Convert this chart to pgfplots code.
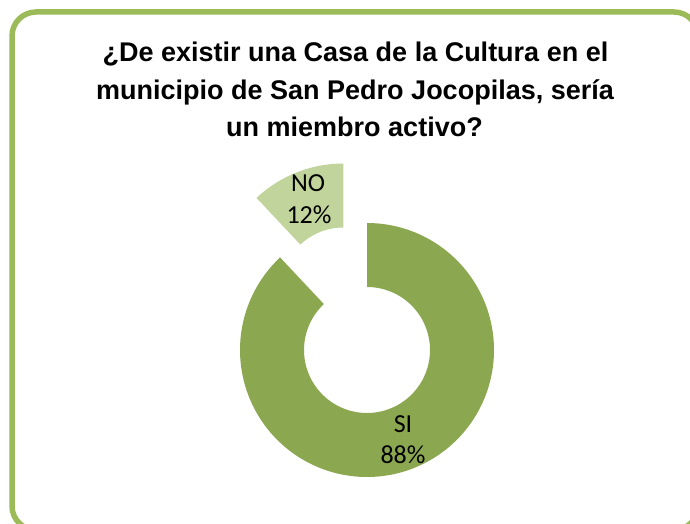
\documentclass[border=0pt]{standalone}
\usepackage{pgfplots}
\usepackage{pgfplotstable}
\pgfplotsset{compat=1.18}
\usepackage{fontspec}
\setmainfont{Liberation Sans}
\newfontfamily\labelfont{Carlito}
\definecolor{sicol}{HTML}{8BA750}
\definecolor{nocol}{HTML}{C0D49B}
\definecolor{framecol}{HTML}{9BBB59}

\pgfplotstableread{
label value
SI 88
NO 12
}\datatable

\begin{document}
\begin{tikzpicture}
\pgfplotstablegetelem{0}{value}\of\datatable \let\vSI\pgfplotsretval
\pgfplotstablegetelem{1}{value}\of\datatable \let\vNO\pgfplotsretval
% geometry (pixel units)
\pgfmathsetmacro{\cx}{367}
\pgfmathsetmacro{\cy}{173}
\pgfmathsetmacro{\Ro}{127}
\pgfmathsetmacro{\Ri}{63}
% SI slice: clockwise from 12 o'clock
\pgfmathsetmacro{\siA}{90-3.6*\vSI}
\pgfmathsetmacro{\siB}{90}
% NO slice
\pgfmathsetmacro{\noA}{90}
\pgfmathsetmacro{\noB}{90+3.6*\vNO}
\pgfmathsetmacro{\noMid}{90+1.8*\vNO}
\pgfmathsetmacro{\noX}{\cx+64*cos(\noMid)}
\pgfmathsetmacro{\noY}{\cy+64*sin(\noMid)}
\path[use as bounding box] (0,0) rectangle (690pt,523pt);
\clip (0,0) rectangle (690pt,523pt);
\begin{axis}[at={(0,0)}, anchor=south west, width=690pt, height=523pt,
  scale only axis, xmin=0, xmax=690, ymin=0, ymax=523, hide axis, clip=false]
% frame
\draw[framecol, line width=5.5pt, rounded corners=24pt]
  (axis cs:12,511) rectangle (axis cs:698,-7);
% SI slice: t in [0,1] outer arc, [1,1.1] radial edge, [1.1,2] inner arc back
\addplot[fill=sicol, draw=none, no markers, domain=0:2, samples=401, variable=\t]
  ({\cx + ((\t<1.05) ? \Ro : \Ri)*cos(((\t<=1) ? (\siA+(\siB-(\siA))*\t) : ((\t<=1.1) ? \siB : (\siB-(\siB-(\siA))*(\t-1.1)/0.9))))},
   {\cy + ((\t<1.05) ? \Ro : \Ri)*sin(((\t<=1) ? (\siA+(\siB-(\siA))*\t) : ((\t<=1.1) ? \siB : (\siB-(\siB-(\siA))*(\t-1.1)/0.9))))});
% NO slice (exploded)
\addplot[fill=nocol, draw=none, no markers, domain=0:2, samples=201, variable=\t]
  ({\noX + ((\t<1.05) ? \Ro : \Ri)*cos(((\t<=1) ? (\noA+(\noB-\noA)*\t) : ((\t<=1.1) ? \noB : (\noB-(\noB-\noA)*(\t-1.1)/0.9))))},
   {\noY + ((\t<1.05) ? \Ro : \Ri)*sin(((\t<=1) ? (\noA+(\noB-\noA)*\t) : ((\t<=1.1) ? \noB : (\noB-(\noB-\noA)*(\t-1.1)/0.9))))});
% labels
\tikzset{lab/.style={anchor=base, font=\labelfont\fontsize{26}{30}\selectfont, inner sep=0pt}}
\node[lab] at (axis cs:308,523-192) {NO};
\node[lab] at (axis cs:309,523-223) {\vNO\%};
\node[lab] at (axis cs:403,523-432) {SI};
\node[lab] at (axis cs:403,523-463) {\vSI\%};
% title
\tikzset{ttl/.style={anchor=base, font=\bfseries\fontsize{27}{32}\selectfont, inner sep=0pt}}
\node[ttl] at (axis cs:355.5,523-62) {¿De existir una Casa de la Cultura en el};
\node[ttl] at (axis cs:355,523-99.5) {municipio de San Pedro Jocopilas, sería};
\node[ttl] at (axis cs:354.5,523-137) {un miembro activo?};
\end{axis}
\end{tikzpicture}
\end{document}
